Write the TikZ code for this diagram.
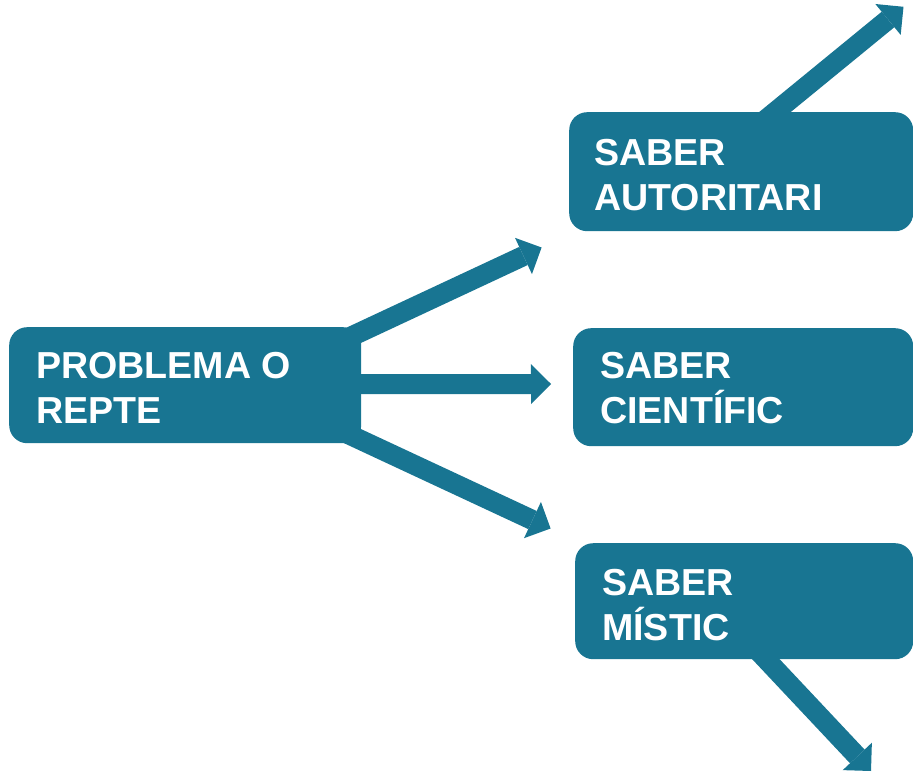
\documentclass[tikz,border=0pt]{standalone}
\usepackage{fontspec}
\setmainfont{Liberation Sans}
\usetikzlibrary{arrows.meta,calc,backgrounds}
\definecolor{teal1}{RGB}{24,117,146}
\begin{document}
\begin{tikzpicture}[x=1pt,y=-1pt,
  box/.style={fill=teal1, rounded corners=18pt, inner sep=0pt, anchor=north west},
  boxtext/.style={text=white, anchor=north west, inner sep=0pt, align=left,
    font=\fontsize{37.6pt}{45pt}\selectfont\bfseries},
  conn/.style={draw=teal1, line width=20pt,
    -{Triangle[length=20pt,width=40pt,line width=0pt]}}]
\useasboundingbox (0,0) rectangle (913,773);
% boxes
\node[box, minimum width=352pt, minimum height=116pt] (p) at (9,327) {};
\node[box, minimum width=344pt, minimum height=119pt] (a) at (569,112) {};
\node[box, minimum width=340pt, minimum height=118pt] (c) at (573,328) {};
\node[box, minimum width=338pt, minimum height=116pt] (m) at (575,543) {};
% texts
\node[boxtext] (pt) at ($(p.north west)+(27,21)$) {\rule{0pt}{30pt}PROBLEMA O\\REPTE};
\node[boxtext] (at) at ($(a.north west)+(25,23)$) {\rule{0pt}{30pt}SABER\\AUTORITARI};
\node[boxtext] (ct) at ($(c.north west)+(27,20)$) {\rule{0pt}{30pt}SABER\\CIENTÍFIC};
\node[boxtext] (mt) at ($(m.north west)+(27,22)$) {\rule{0pt}{30pt}SABER\\MÍSTIC};
% free ends
\coordinate (t1) at (541.6,247.5);
\coordinate (t2) at (551,384);
\coordinate (t3) at (550.6,528.5);
\coordinate (t4) at (903.5,6.8);
\coordinate (t5) at (871,771);
\begin{scope}[on background layer]
\draw[conn] ($(p.east)+(-31,-39)$) -- (t1);
\draw[conn] ($(p.east)+(-31,-1)$) -- (t2);
\draw[conn] ($(p.east)+(-31,40.6)$) -- (t3);
\draw[conn] ($(a.north west)+(190.5,12.7)$) -- (t4);
\draw[conn] ($(m.south west)+(177,-15)$) -- (t5);
\end{scope}
\end{tikzpicture}
\end{document}
